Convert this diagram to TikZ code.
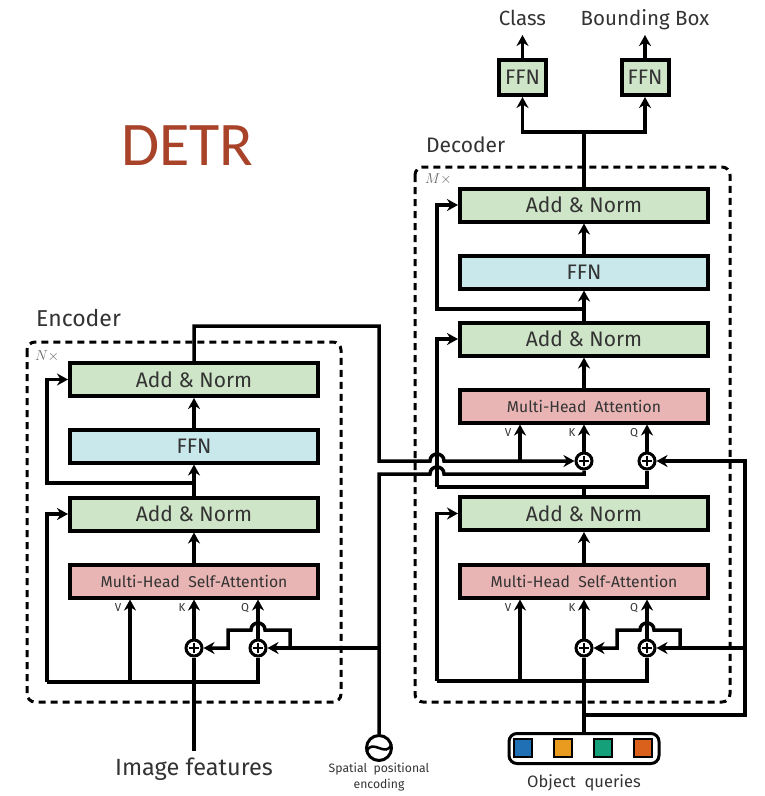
\documentclass[tikz,border=0pt]{standalone}
\usepackage{fontspec}
\setmainfont{Fira Sans}
\newfontfamily\detrfont{Carlito}
\usetikzlibrary{arrows.meta,positioning}

\definecolor{normgreen}{HTML}{CFE5C8}
\definecolor{ffnblue}{HTML}{C8E8EC}
\definecolor{attnpink}{HTML}{E8B4B4}
\definecolor{textgray}{HTML}{333333}
\definecolor{detrred}{HTML}{A8432A}
\definecolor{qblue}{HTML}{1F70B5}
\definecolor{qorange}{HTML}{E89B1E}
\definecolor{qgreen}{HTML}{16A07A}
\definecolor{qred}{HTML}{D9611C}

\begin{document}
\begin{tikzpicture}[
    x=1pt, y=-1pt,
    % boxes of the two stacks
    layer/.style={draw, line width=4pt, minimum width=248pt, minimum height=33pt,
        inner sep=0pt, text=textgray, font=\fontsize{21}{21}\selectfont},
    addnorm/.style={layer, fill=normgreen},
    ffnbox/.style={layer, fill=ffnblue},
    attn/.style={layer, fill=attnpink, font=\fontsize{15.7}{15.7}\selectfont},
    head/.style={addnorm, minimum width=47pt, minimum height=35pt},
    plus/.style={circle, draw, line width=3pt, fill=white, minimum size=16pt, inner sep=0pt,
        path picture={\draw[line width=1.6pt]
            ([xshift=-5pt]path picture bounding box.center) -- ([xshift=5pt]path picture bounding box.center)
            ([yshift=-5pt]path picture bounding box.center) -- ([yshift=5pt]path picture bounding box.center);}},
    conn/.style={line width=3.5pt},
    arr/.style={conn, -{Stealth[length=11pt,width=12pt]}},
    qkv/.style={font=\fontsize{11.5}{11.5}\selectfont, text=textgray},
    stackbox/.style={draw, line width=3pt, rounded corners=8pt, dash pattern=on 7pt off 5pt},
    title/.style={text=textgray, inner sep=0pt},
    query/.style={draw, line width=2.5pt, minimum size=18pt, inner sep=0pt},
]
    \useasboundingbox (0,0) rectangle (764,796);

    % --- Titles ---
    \node[font=\detrfont\fontsize{62}{62}\selectfont, text=detrred, anchor=base] (detr) at (187.5,165) {DETR};
    \node[title, font=\fontsize{23}{23}\selectfont, anchor=base west] (enclbl) at (36,326) {Encoder};
    \node[title, font=\fontsize{21}{21}\selectfont, anchor=base west] (declbl) at (426,152) {Decoder};

    % --- Repetition frames ---
    \draw[stackbox] (27,342) rectangle (341,702);
    \draw[stackbox] (415,167) rectangle (730,702);
    \node[anchor=base west, inner sep=0pt, text=black!60, font=\fontsize{15}{15}\selectfont] (encN) at (35,360) {$N\times$};
    \node[anchor=base west, inner sep=0pt, text=black!60, font=\fontsize{15}{15}\selectfont] (decM) at (425,183) {$M\times$};

    % --- Encoder layers ---
    \node[addnorm] (encAN2) at (194,379.5) {Add \& Norm};
    \node[ffnbox] (encFFN) at (194,446) {FFN};
    \node[addnorm] (encAN1) at (194,514) {Add \& Norm};
    \node[attn] (encMHSA) at (194,581) {Multi-Head\ \ Self-Attention};

    % --- Decoder layers ---
    \node[addnorm] (decAN3) at (584,205) {Add \& Norm};
    \node[ffnbox] (decFFN) at (584,272) {FFN};
    \node[addnorm] (decAN2) at (584,339) {Add \& Norm};
    \node[attn] (decMHA) at (584,406) {Multi-Head\ \ Attention};
    \node[addnorm] (decAN1) at (584,513.5) {Add \& Norm};
    \node[attn] (decMHSA) at (584,581) {Multi-Head\ \ Self-Attention};

    % --- Prediction heads ---
    \node[head] (ffnCls) at (522.5,77.5) {FFN};
    \node[head] (ffnBox) at (645,77.5) {FFN};
    \node[title, font=\fontsize{20.5}{20.5}\selectfont, anchor=base, text depth=5pt, inner sep=3pt, outer sep=2pt] (lblCls) at (522.5,25) {Class};
    \node[title, font=\fontsize{20.5}{20.5}\selectfont, anchor=base, text depth=5pt, inner sep=3pt, outer sep=2pt] (lblBox) at (645,25) {Bounding Box};

    % --- Sums with positional encodings ---
    \node[plus] (encK) at (194,648) {};
    \node[plus] (encQ) at (258,648) {};
    \node[plus] (decSK) at (584,648) {};
    \node[plus] (decSQ) at (647,648) {};
    \node[plus] (decCK) at (584,461) {};
    \node[plus] (decCQ) at (647,461) {};

    % V, K, Q tags
    \node[qkv] at (118,608) {V};
    \node[qkv] at (182,608) {K};
    \node[qkv] at (245,608) {Q};
    \node[qkv] at (508,608) {V};
    \node[qkv] at (572,608) {K};
    \node[qkv] at (634,608) {Q};
    \node[qkv] at (508,433) {V};
    \node[qkv] at (572,433) {K};
    \node[qkv] at (634,433) {Q};

    % --- Inputs ---
    \node[title, font=\fontsize{23.5}{23.5}\selectfont, anchor=base, text height=18pt, inner sep=4pt, outer sep=2pt] (imgfeat) at (194,775) {Image features};
    \node[circle, draw, line width=3pt, minimum size=25pt, inner sep=0pt] (posenc) at (379,748) {};
    \draw[line width=2.5pt] (366.5,752) .. controls (372,737) and (386,759) .. (391.5,744);
    \node[title, font=\fontsize{12.2}{16}\selectfont, align=center, anchor=north] (poslbl) at (379,763) {Spatial\ \ positional\\encoding};
    \node[draw, line width=3pt, rounded corners=8pt, minimum width=150pt, minimum height=30pt] (objq) at (584,748.5) {};
    \node[query, fill=qblue] (q1) at (523,748) {};
    \node[query, fill=qorange] (q2) at (563,748) {};
    \node[query, fill=qgreen] (q3) at (603,748) {};
    \node[query, fill=qred] (q4) at (643,748) {};
    \node[title, font=\fontsize{16.5}{16.5}\selectfont, anchor=base] (objlbl) at (584,787) {Object\ \ queries};

    % --- Junctions ---
    \coordinate (encL) at (47,682);
    \coordinate (encV) at (130,682);
    \coordinate (encResJ) at (194,483);
    \coordinate (encRes) at (47,483);
    \coordinate (encBrR) at (290,648);
    \coordinate (encBrL) at (228,648);
    \coordinate (memTop) at (379,326);
    \coordinate (memBot) at (379,461);
    \coordinate (memV) at (520,461);
    \coordinate (posBend) at (379,474);
    \coordinate (posEnc) at (379,648);
    \coordinate (qJ) at (584,715);
    \coordinate (qBot) at (745,715);
    \coordinate (qSelf) at (745,648);
    \coordinate (decBrR) at (680,648);
    \coordinate (decBrL) at (617,648);
    \coordinate (dsL) at (437,681);
    \coordinate (dsV) at (520,681);
    \coordinate (caJ) at (584,487);
    \coordinate (caL) at (437,487);
    \coordinate (ffRes) at (584,309);
    \coordinate (ffResL) at (437,309);
    \coordinate (headJ) at (584,132);

    % --- Encoder connections ---
    \draw[conn] (imgfeat) -- (encK);
    \draw[conn] (encQ) |- (encL);
    \draw[arr] (encL) |- (encAN1);
    \draw[arr] (encV) -- (encV |- encMHSA.south);
    \draw[arr] (encK) -- (encK |- encMHSA.south);
    \draw[arr] (encQ) -- (encQ |- encMHSA.south);
    \draw[arr] (posEnc) -- (encQ);
    \draw[arr] (encBrR) -- ++(0,-18) -- (265,630) .. controls (265,620.7) and (251,620.7) .. (251,630)
        -- (228,630) -- (encBrL) -- (encK);
    \draw[arr] (encMHSA) -- (encAN1);
    \draw[arr] (encAN1) -- (encFFN);
    \draw[arr] (encResJ) -- (encRes) |- (encAN2);
    \draw[arr] (encFFN) -- (encAN2);

    % encoder memory and spatial encoding into the decoder
    \draw[arr] (encAN2) |- (memTop) -- (memBot) -- (430,461) .. controls (430,451.7) and (444,451.7) .. (444,461)
        -- (decCK);
    \draw[arr] (memV) -- (memV |- decMHA.south);
    \draw[conn] (posenc) -- (posBend) -- (430,474) .. controls (430,464.7) and (444,464.7) .. (444,474)
        -- (decCK |- posBend) -- (decCK);

    % --- Decoder connections ---
    \draw[conn] (objq) -- (decSK);
    \draw[arr] (qJ) -- (qBot) |- (decCQ);
    \draw[arr] (qSelf) -- (decSQ);
    \draw[arr] (decBrR) -- ++(0,-18) -- (654,630) .. controls (654,620.7) and (640,620.7) .. (640,630)
        -- (617,630) -- (decBrL) -- (decSK);
    \draw[conn] (decSQ) |- (dsL);
    \draw[arr] (dsL) |- (decAN1);
    \draw[arr] (dsV) -- (dsV |- decMHSA.south);
    \draw[arr] (decSK) -- (decSK |- decMHSA.south);
    \draw[arr] (decSQ) -- (decSQ |- decMHSA.south);
    \draw[arr] (decMHSA) -- (decAN1);
    \draw[conn] (decAN1) -- (caJ);
    \draw[conn] (decCQ) |- (caL);
    \draw[arr] (caL) |- (decAN2);
    \draw[arr] (decCK) -- (decCK |- decMHA.south);
    \draw[arr] (decCQ) -- (decCQ |- decMHA.south);
    \draw[arr] (decMHA) -- (decAN2);
    \draw[arr] (decAN2) -- (decFFN);
    \draw[arr] (ffRes) -- (ffResL) |- (decAN3);
    \draw[arr] (decFFN) -- (decAN3);
    \draw[conn] (decAN3) -- (headJ);
    \draw[arr] (headJ) -| (ffnCls);
    \draw[arr] (headJ) -| (ffnBox);
    \draw[arr] (ffnCls) -- (lblCls);
    \draw[arr] (ffnBox) -- (lblBox);
\end{tikzpicture}
\end{document}
